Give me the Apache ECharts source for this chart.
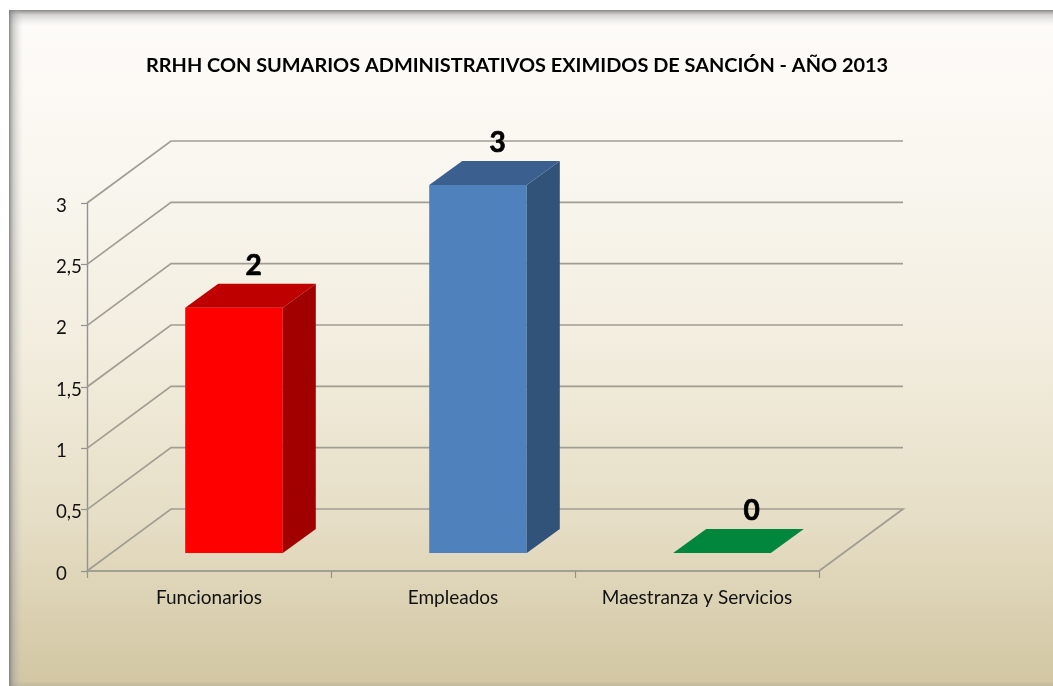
<!DOCTYPE html>
<html>
<head>
<meta charset="utf-8">
<title>RRHH</title>
<script src="https://cdn.jsdelivr.net/npm/echarts@6/dist/echarts.min.js"></script>
<style>
    html,body{margin:0;padding:0;background:#fff;}
    #main{width:1053px;height:686px;}
</style>
</head>
<body>
<div id="main"></div>
<script>
var categories = ['Funcionarios', 'Empleados', 'Maestranza y Servicios'];
var values = [2, 3, 0];
var yTicks = [0, 0.5, 1, 1.5, 2, 2.5, 3];
var chartTitle = 'RRHH CON SUMARIOS ADMINISTRATIVOS EXIMIDOS DE SANCIÓN - AÑO 2013';

// front, top, side
var faces = [
    ['#ff0000', '#bf0000', '#a00000'],
    ['#4f81bd', '#3b6090', '#315379'],
    ['#00863d', '#00863d', '#00863d']
];

var wallDx = 84, wallDy = -62;     // back wall offset
var depthDx = 33, depthDy = -24;   // bar depth
var floorDx = 25, floorDy = -18;   // bar foot from the axis
var font = 'Lato';

var myChart = echarts.init(document.getElementById('main'));

function renderWall(params, api) {
    var cs = params.coordSys;
    var v = api.value(1);
    var y = api.coord([0, v])[1];
    var points = [[cs.x, y], [cs.x + wallDx, y + wallDy], [cs.x + cs.width + wallDx, y + wallDy]];
    if (v === 0) {
        points.push([cs.x + cs.width, y]);
    }
    return {
        type: 'polyline',
        shape: {points: points},
        style: {fill: 'none', stroke: '#a19d92', lineWidth: 1.7}
    };
}

function renderBar(params, api) {
    var i = api.value(0);
    var v = api.value(1);
    var top = api.coord([i, v]);
    var w = api.size([1, 0])[0] * 0.4;
    var y0 = api.coord([i, 0])[1] + floorDy;
    var y1 = top[1] + floorDy;
    var x0 = top[0] + floorDx - w / 2;
    var x1 = x0 + w;
    var face = faces[i];
    var children = [];
    if (v > 0) {
        children.push({
            type: 'rect',
            shape: {x: x0, y: y1, width: w, height: y0 - y1},
            style: {fill: face[0]}
        });
        children.push({
            type: 'polygon',
            shape: {points: [[x1, y1], [x1 + depthDx, y1 + depthDy], [x1 + depthDx, y0 + depthDy], [x1, y0]]},
            style: {fill: face[2]}
        });
    }
    children.push({
        type: 'polygon',
        shape: {points: [[x0, y1], [x0 + depthDx, y1 + depthDy], [x1 + depthDx, y1 + depthDy], [x1, y1]]},
        style: {fill: face[1]}
    });
    children.push({
        type: 'text',
        style: {
            text: String(v),
            x: top[0] + floorDx + (v === 0 ? 29.5 : 19.5),
            y: y1 - 42,
            align: 'center',
            verticalAlign: 'middle',
            font: 'bold 28px ' + font,
            fill: '#000',
            stroke: '#000',
            lineWidth: 0.7
        }
    });
    return {type: 'group', children: children};
}

var option = {
    animation: false,
    textStyle: {fontFamily: font},
    title: {
        text: chartTitle,
        left: 141,
        top: 51,
        textStyle: {fontFamily: font, fontSize: 19.9, fontWeight: 'bold', color: '#000'}
    },
    grid: {left: 87, right: 234, top: 203, bottom: 115},
    graphic: [
        {
            type: 'rect', z: -10, silent: true,
            shape: {x: 9, y: 10, width: 1044, height: 676},
            style: {
                fill: new echarts.graphic.LinearGradient(0, 0, 0, 1, [
                    {offset: 0, color: '#fefcf9'},
                    {offset: 0.25, color: '#f9f6ef'},
                    {offset: 0.5, color: '#f2edde'},
                    {offset: 0.75, color: '#e6dec6'},
                    {offset: 1, color: '#d2c6a2'}
                ])
            }
        },
        {
            type: 'rect', z: -9, silent: true,
            shape: {x: 9, y: 10, width: 1044, height: 16},
            style: {
                fill: new echarts.graphic.LinearGradient(0, 0, 0, 1, [
                    {offset: 0, color: 'rgba(120,120,120,0.9)'},
                    {offset: 0.3, color: 'rgba(150,150,150,0.4)'},
                    {offset: 1, color: 'rgba(200,200,200,0)'}
                ])
            }
        },
        {
            type: 'rect', z: -9, silent: true,
            shape: {x: 9, y: 10, width: 14, height: 676},
            style: {
                fill: new echarts.graphic.LinearGradient(0, 0, 1, 0, [
                    {offset: 0, color: 'rgba(120,120,120,0.85)'},
                    {offset: 0.3, color: 'rgba(150,150,150,0.45)'},
                    {offset: 1, color: 'rgba(200,200,200,0)'}
                ])
            }
        },
        {
            type: 'rect', z: -9, silent: true,
            shape: {x: 9, y: 681, width: 1044, height: 5},
            style: {
                fill: new echarts.graphic.LinearGradient(0, 0, 0, 1, [
                    {offset: 0, color: 'rgba(150,150,150,0)'},
                    {offset: 1, color: 'rgba(150,150,150,0.3)'}
                ])
            }
        }
    ],
    xAxis: {
        type: 'category',
        data: categories,
        axisLine: {lineStyle: {color: '#8f8d88', width: 1.7}},
        axisTick: {show: true, length: 7, interval: 0, lineStyle: {color: '#8f9296', width: 1.2}},
        axisLabel: {color: '#111', fontSize: 19, margin: 17, interval: 0, fontFamily: font},
        splitLine: {show: false}
    },
    yAxis: {
        type: 'value',
        min: 0,
        max: 3,
        interval: 0.5,
        axisLine: {show: true, lineStyle: {color: '#8f9296', width: 1.4}},
        axisTick: {show: true, length: 6, lineStyle: {color: '#8f9296', width: 1.2}},
        axisLabel: {
            color: '#111',
            fontSize: 18.7,
            align: 'left',
            verticalAlign: 'top',
            lineHeight: 5,
            margin: 31,
            fontFamily: font,
            formatter: function (v) { return String(v).replace('.', ','); }
        },
        splitLine: {show: false}
    },
    series: [
        {
            type: 'custom',
            name: 'pared',
            z: 1,
            clip: false,
            silent: true,
            renderItem: renderWall,
            encode: {x: 0, y: 1},
            data: yTicks.map(function (v) { return [0, v]; })
        },
        {
            type: 'custom',
            name: 'barras',
            z: 2,
            clip: false,
            renderItem: renderBar,
            encode: {x: 0, y: 1},
            data: values.map(function (v, i) { return [i, v]; })
        }
    ]
};
myChart.setOption(option);
</script>
</body>
</html>
